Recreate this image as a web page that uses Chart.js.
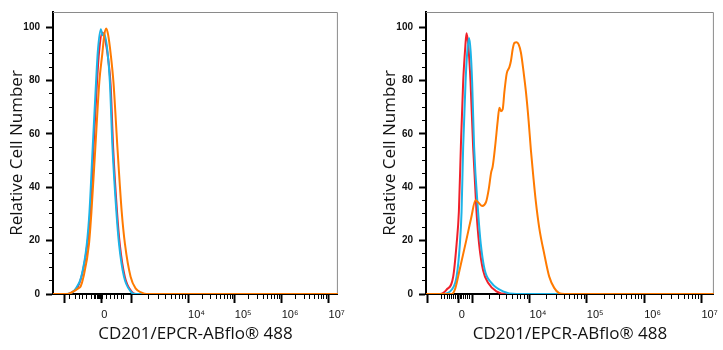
<!DOCTYPE html>
<html><head><meta charset="utf-8">
<script src="https://cdn.jsdelivr.net/npm/chart.js@4.4.1/dist/chart.umd.min.js"></script>
<style>
html,body{margin:0;padding:0;background:#fff;width:723px;height:350px;overflow:hidden}
.p{position:absolute;top:0;width:350px;height:350px}
#pl{left:0}#pr{left:373px}
</style></head><body>
<div class="p" id="pl"><canvas id="cl"></canvas></div>
<div class="p" id="pr"><canvas id="cr"></canvas></div>
<script>
// ---- axis titles ----
const xTitle = 'CD201/EPCR-ABflo® 488';
const yTitle = 'Relative Cell Number';

// ---- y ticks (percent of max) ----
const yTickValues = [0,5,10,15,20,25,30,35,40,45,50,55,60,65,70,75,80,85,90,95,100];
const yTickLabelled = [0,20,40,60,80,100];

// ---- x ticks, in display channels (0-1024) ----
const leftMajorTicks  = [42.5, 173.6, 283.5, 485.4, 653.7, 822.0, 990.3];
const rightMajorTicks = [7.1, 116.9, 166.5, 368.5, 572.2, 776.0, 979.7];
const majorTickLabels = ['', '0', '', '10⁴', '10⁵', '10⁶', '10⁷'];
const leftMinorTicks = [60.2, 81.5, 95.7, 106.3, 120.5, 138.2, 148.8, 154.1, 159.4, 163, 166.5, 170, 177.2,
  191.3, 205.5, 219.7, 230.3, 244.5, 255.1, 343.7, 379.1, 403.9, 425.2, 439.4, 453.5, 465.9, 476.6,
  536.0, 565.7, 586.7, 603.0, 616.4, 627.6, 637.3, 645.9, 704.3, 734.0, 755.0, 771.3, 784.7, 795.9, 805.6, 814.2,
  872.6, 902.3, 923.3, 939.6, 953.0, 964.2, 973.9, 982.5];
const rightMinorTicks = [56.7, 67.3, 78.0, 85.0, 92.1, 99.2, 106.3, 111.6, 122.2, 127.6, 134.6, 141.7, 148.8, 155.9,
  227.3, 262.9, 288.1, 307.7, 323.7, 337.2, 348.9, 359.3, 429.8, 465.7, 491.1, 510.9, 527.0, 540.6, 552.5, 562.9,
  633.5, 669.4, 694.8, 714.6, 730.7, 744.3, 756.2, 766.6, 837.3, 873.2, 898.6, 918.4, 934.5, 948.1, 960.0, 970.4];

// ---- left panel histograms (channel, % of max) ----
const leftRedX = [0, 53.1, 70.9, 88.6, 106.3, 125.1, 134.6, 146.3, 158.4, 165.8, 177.2, 186.0, 198.4, 207.3, 216.1, 230.3, 240.2, 258.0, 281.7, 297.6, 1024];
const leftRedY = [0, 0, 0.8, 2.5, 8, 20, 32, 56, 80, 91, 98, 96, 88, 78, 55, 30.5, 18.5, 6.5, 1, 0, 0];
const leftCyanX = [0, 46.1, 67.3, 81.5, 101.7, 121.5, 131.1, 142.8, 154.8, 161.2, 171.9, 177.2, 184.3, 196.7, 204.4, 213.7, 227.8, 237.4, 255.1, 278.9, 294.1, 1024];
const leftCyanY = [0, 0, 0.5, 2, 6.5, 18.7, 30.8, 55.2, 79.5, 91, 99.2, 97, 97.5, 90, 79.5, 55.2, 30.8, 18.7, 6.5, 1, 0, 0];
const leftOrangeX = [0, 53.1, 74.4, 92.1, 99.2, 109.8, 129.3, 138.2, 152.4, 166.5, 177.2, 184.3, 191.3, 198.4, 207.3, 217.2, 231.4, 247.0, 258.7, 278.9, 297.6, 318.9, 336.6, 1024];
const leftOrangeY = [0, 0, 1, 2.2, 2.8, 6.5, 18.7, 30.8, 55.2, 79.5, 90, 97, 99.5, 97, 90, 79.5, 55.2, 30.8, 18.7, 6.5, 2, 0.5, 0, 0];

// ---- right panel histograms (channel, % of max) ----
const rightRedX = [0, 49.6, 73.3, 96.7, 108.8, 116.9, 124.0, 132.2, 140.0, 144.2, 150.6, 158.4, 167.6, 179.6, 188.9, 203.0, 220.7, 250.5, 285.9, 1024];
const rightRedY = [0, 0, 1.6, 6.5, 18.7, 30.8, 55.2, 79.5, 93, 97.7, 93, 79.5, 55.2, 30.8, 18.7, 8.9, 4.2, 1, 0, 0];
const rightCyanX = [0, 60.2, 91.1, 108.8, 120.5, 126.5, 132.2, 140.7, 147.0, 153.4, 158.7, 164.1, 171.1, 185.3, 194.9, 209.1, 232.8, 273.9, 321.4, 1024];
const rightCyanY = [0, 0, 1.6, 6.5, 18.7, 30.8, 55.2, 79.5, 91, 95.9, 91, 79.5, 55.2, 30.8, 18.7, 8.9, 4.2, 1, 0, 0];
const rightOrangeX = [0, 92.0, 104.0, 119.4, 142.8, 160.5, 176.1, 184.3, 199.5, 213.7, 223.2, 231.4, 237.4, 247.0, 255.1, 261.1, 266.8, 272.8, 278.9, 287.0, 296.6, 302.2, 308.3, 314.3, 322.4, 329.5, 337.7, 347.2, 355.4, 365.0, 373.1, 381.6, 390.8, 402.9, 420.6, 438.3, 456.0, 473.7, 492.5, 1024];
const rightOrangeY = [0, 0, 2.0, 9.0, 19.9, 28.4, 35.1, 34.5, 33, 34.5, 39.3, 45.4, 47.9, 56.4, 64.9, 69.8, 68.5, 69.2, 75.8, 82.6, 85, 87.4, 91.7, 94.1, 94.3, 93.5, 90.4, 83.1, 75.8, 64.9, 53.9, 44.2, 34.5, 24.7, 15, 6.5, 2.3, 0.3, 0, 0];

const RED = '#F0202A', CYAN = '#1CB4E8', ORANGE = '#FF7A00';

function pts(xs, ys) { return xs.map((x, i) => ({x: x, y: ys[i]})); }

const framePlugin = {
  id: 'frame',
  beforeDatasetsDraw(chart) {
    const a = chart.chartArea, c = chart.ctx;
    c.save();
    c.strokeStyle = '#8a8a8a';
    c.lineWidth = 1;
    c.beginPath();
    c.moveTo(a.left, a.top + 0.5);
    c.lineTo(a.right - 0.5, a.top + 0.5);
    c.lineTo(a.right - 0.5, a.bottom);
    c.stroke();
    c.restore();
  }
};

function makePanel(id, series, majors, minors) {
  const majorSet = new Set(majors);
  const allTicks = majors.concat(minors).sort((a, b) => a - b);
  new Chart(document.getElementById(id), {
    type: 'line',
    data: {
      datasets: series.map(s => ({
        data: pts(s.x, s.y),
        borderColor: s.color,
        borderWidth: 2,
        pointRadius: 0,
        fill: false,
        cubicInterpolationMode: 'monotone',
        borderJoinStyle: 'round'
      }))
    },
    options: {
      responsive: true,
      maintainAspectRatio: false,
      animation: false,
      devicePixelRatio: 1,
      layout: {padding: {top: 5, right: 8, bottom: 0, left: 0}},
      plugins: {legend: {display: false}, tooltip: {enabled: false}},
      scales: {
        x: {
          type: 'linear', min: 0, max: 1024,
          afterBuildTicks: s => { s.ticks = allTicks.map(v => ({value: v})); },
          afterFit: s => { s.height = 56; },
          border: {display: true, color: '#000', width: 2},
          grid: {
            display: true, drawOnChartArea: false, drawTicks: true, tickLength: 9,
            tickColor: '#000',
            tickWidth: ctx => majorSet.has(ctx.tick.value) ? 2 : 1,
            tickBorderDash: ctx => majorSet.has(ctx.tick.value) ? [] : [4, 30]
          },
          ticks: {
            autoSkip: false, maxRotation: 0, minRotation: 0, align: 'start', padding: 5,
            color: '#111', font: {family: 'Liberation Sans', size: 11},
            callback: v => { const i = majors.indexOf(v); return i >= 0 ? majorTickLabels[i] : ''; }
          },
          title: {display: true, text: xTitle, color: '#111', font: {family: 'Open Sans', size: 17}, padding: {top: 0, bottom: 6}}
        },
        y: {
          type: 'linear', min: 0, max: 105.67,
          afterBuildTicks: s => { s.ticks = yTickValues.map(v => ({value: v})); },
          afterFit: s => { s.width = 53; },
          border: {display: true, color: '#000', width: 2},
          grid: {
            display: true, drawOnChartArea: false, drawTicks: true, tickLength: 7,
            tickColor: '#000',
            tickWidth: ctx => yTickLabelled.includes(ctx.tick.value) ? 2 : 1,
            tickBorderDash: ctx => yTickLabelled.includes(ctx.tick.value) ? [] : [3, 3],
            tickBorderDashOffset: ctx => yTickLabelled.includes(ctx.tick.value) ? 0 : 3
          },
          ticks: {
            autoSkip: false, padding: 6,
            color: '#111', font: {family: 'Liberation Sans', size: 10, weight: 'bold'},
            callback: v => yTickLabelled.includes(v) ? String(v) : ''
          },
          title: {display: true, text: yTitle, color: '#111', font: {family: 'Open Sans', size: 17}, padding: {top: 7, bottom: 0}}
        }
      }
    },
    plugins: [framePlugin]
  });
}

makePanel('cl', [
  {x: leftOrangeX, y: leftOrangeY, color: ORANGE},
  {x: leftCyanX, y: leftCyanY, color: CYAN},
  {x: leftRedX, y: leftRedY, color: RED}
], leftMajorTicks, leftMinorTicks);

makePanel('cr', [
  {x: rightOrangeX, y: rightOrangeY, color: ORANGE},
  {x: rightCyanX, y: rightCyanY, color: CYAN},
  {x: rightRedX, y: rightRedY, color: RED}
], rightMajorTicks, rightMinorTicks);
</script>
</body></html>
